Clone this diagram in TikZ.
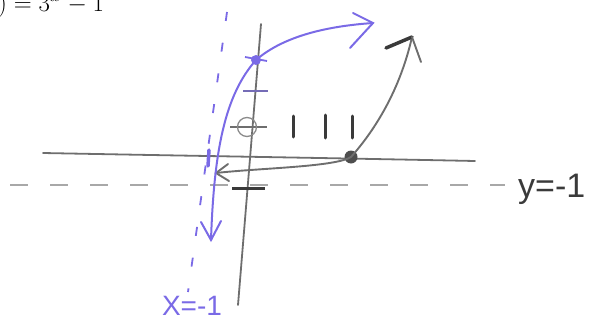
\documentclass[tikz,border=0pt]{standalone}
\usepackage{fontspec}
\setsansfont{Liberation Sans}
\usetikzlibrary{arrows.meta}
\definecolor{pur}{HTML}{7A6AE6}
\definecolor{ax}{HTML}{6E6E6E}
\definecolor{dk}{HTML}{3A3A3A}
\tikzset{
  axisline/.style={ax, line width=1.8pt, line cap=round},
  graycurve/.style={ax, line width=1.9pt, line cap=round},
  purcurve/.style={pur, line width=2pt, line cap=round},
  tickmark/.style={dk, line width=3pt, line cap=round},
  asym/.style={ax!60, line width=2pt, dash pattern=on 18pt off 22pt},
  pasym/.style={pur, line width=1.8pt, dash pattern=on 9pt off 22pt},
  lbl/.style={font=\sffamily\fontsize{34}{34}\selectfont, inner sep=0pt}
}
\begin{document}
\begin{tikzpicture}[x=1pt,y=-1pt]
\useasboundingbox (0,0) rectangle (607,324);
\clip (0,0) rectangle (607,324);
% cropped title
\node[anchor=base west, inner sep=0pt, font=\fontsize{28}{28}\selectfont] (title) at (-2,11) {$)=3^{x}-1$};
% axes
\coordinate (xl) at (43,153);
\coordinate (xr) at (475,161);
\coordinate (yt) at (261,24);
\coordinate (yb) at (238,305);
\draw[axisline] (xl) .. controls (200,156) and (330,158) .. (xr);
\draw[axisline] (yt) -- (yb);
% horizontal asymptote
\coordinate (hl) at (10,185);
\coordinate (hr) at (505,185);
\draw[asym] (hl) -- (hr);
\node[lbl, dk, anchor=west] (ylab) at (518,189) {y=-1};
% vertical asymptote
\coordinate (vt) at (227,12);
\coordinate (vb) at (188,292);
\draw[pasym] (vt) -- (vb);
\draw[pur, line width=3.5pt, line cap=round] (209,150) -- (208,166);
\node[lbl, pur, anchor=north, font=\sffamily\fontsize{28}{28}\selectfont] (xlab) at (192,296) {X=-1};
% y-axis ticks
\draw[pur!60!ax, line width=1.6pt] (243,91) -- (268,91);
\draw[ax, line width=1.6pt] (230,127) -- (267,127);
\node[draw=ax!80, line width=1.3pt, circle, minimum size=19pt, inner sep=0pt] (yint) at (247,127) {};
\draw[dk, line width=3pt] (232,188) -- (265,188);
% three bars
\draw[tickmark] (293,116) -- (293,137);
\draw[tickmark] (325,115) -- (325,138);
\draw[tickmark] (352,116) -- (352,138);
% gray curve
\node[circle, fill=dk!90, inner sep=0pt, minimum size=13pt] (dot) at (351,157) {};
\coordinate (gtip) at (412,37);
\coordinate (gleft) at (216,173);
\draw[graycurve] (dot.center) .. controls (375,130) and (400,90) .. (gtip);
\draw[dk, line width=3.5pt, line cap=round] (gtip) -- (386,48);
\draw[graycurve] (gtip) -- (421,62);
\draw[graycurve] (dot.center) .. controls (335,167) and (260,168) .. (gleft);
\draw[graycurve] (228,164) -- (gleft) -- (229,181);
% purple curve
\node[circle, fill=pur, inner sep=0pt, minimum size=10pt] (pdot) at (256,60) {};
\draw[pur, line width=1.8pt] (245,57) -- (267,61);
\coordinate (ptip) at (373,23);
\coordinate (pbot) at (211,240);
\draw[purcurve] (pbot) .. controls (214,150) and (225,95) .. (pdot.center)
  .. controls (285,35) and (330,26) .. (ptip);
\draw[purcurve] (353,13) -- (ptip) -- (350,48);
\draw[purcurve] (201,222) -- (pbot) -- (221,221);
\end{tikzpicture}
\end{document}
